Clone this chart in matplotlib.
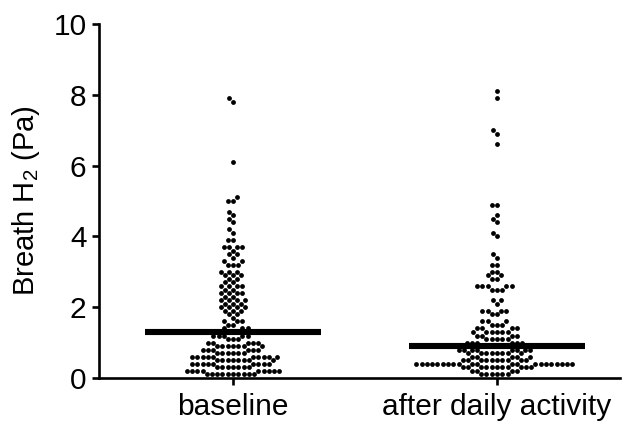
import numpy as np
import matplotlib
matplotlib.use("Agg")
import matplotlib.pyplot as plt

plt.rcParams['font.family'] = ['Liberation Sans', 'DejaVu Sans']
plt.rcParams['mathtext.fontset'] = 'custom'
plt.rcParams['mathtext.rm'] = 'Liberation Sans'
plt.rcParams['mathtext.default'] = 'regular'

categories = ["baseline", "after daily activity"]

# value (Pa) -> number of subjects at that value
baseline_values = [7.9, 7.8, 6.1, 5.1, 5.0, 4.7, 4.6, 4.5, 4.4, 4.2, 4.1, 3.9, 3.7, 3.6, 3.5,
                   3.4, 3.3, 3.2, 3.0, 2.9, 2.8, 2.7, 2.6, 2.5, 2.4, 2.3, 2.2, 2.1, 2.0, 1.9,
                   1.8, 1.7, 1.6, 1.5, 1.4, 1.3, 1.2, 1.1, 1.0, 0.9, 0.8, 0.7, 0.6, 0.5, 0.4,
                   0.3, 0.2, 0.1]
baseline_counts = [1, 1, 1, 1, 2, 1, 1, 1, 1, 1, 1, 2, 4, 1, 2,
                   1, 2, 3, 3, 3, 2, 2, 4, 2, 4, 2, 4, 3, 4, 3,
                   2, 1, 3, 2, 3, 5, 5, 3, 5, 7, 6, 6, 10, 8, 9,
                   7, 9, 10]

after_values = [8.1, 7.9, 7.0, 6.9, 6.6, 4.9, 4.6, 4.5, 4.4, 4.1, 4.0, 3.5, 3.4, 3.2, 3.0,
                2.9, 2.8, 2.6, 2.5, 2.2, 2.1, 1.9, 1.8, 1.6, 1.5, 1.4, 1.3, 1.2, 1.1, 1.0,
                0.9, 0.8, 0.7, 0.6, 0.5, 0.4, 0.3, 0.2, 0.1]
after_counts = [1, 1, 1, 1, 1, 2, 1, 1, 1, 1, 1, 1, 1, 2, 2,
                2, 2, 5, 3, 2, 1, 4, 2, 3, 3, 4, 6, 4, 5, 6,
                6, 8, 8, 5, 10, 21, 11, 4, 6]

medians = [1.3, 0.9]

W, H, DPI = 624, 423, 100
fig = plt.figure(figsize=(W / DPI, H / DPI), dpi=DPI)
ax = fig.add_axes([99 / W, 45 / H, (620 - 99) / W, (378 - 24) / H])
ax.set_ylim(0, 10)
ax.set_xlim(-0.508, 1.466)

# pixel scales for swarm layout
px_per_y = (378 - 24) / 10.0
px_per_x = 264.0
D = 5.3  # minimum centre distance, px


def swarm(vals):
    ys = np.sort(np.asarray(vals, dtype=float)) * px_per_y
    placed = []
    xs = []
    for y in ys:
        neigh = [(px, py) for px, py in placed if abs(py - y) < D]
        cands = [0.0]
        for px, py in neigh:
            dx = np.sqrt(D * D - (py - y) ** 2)
            cands += [px + dx, px - dx]
        cands.sort(key=lambda c: (abs(c), c))
        for c in cands:
            if all((c - px) ** 2 + (y - py) ** 2 >= D * D - 1e-6 for px, py in neigh):
                placed.append((c, y))
                xs.append(c)
                break
    return np.array(xs) / px_per_x, ys / px_per_y


groups = [np.repeat(baseline_values, baseline_counts), np.repeat(after_values, after_counts)]
for i, g in enumerate(groups):
    dx, yy = swarm(g)
    ax.scatter(i + dx, yy, s=12, color='black', linewidths=0, zorder=3, clip_on=False)
    ax.plot([i - 0.333, i + 0.333], [medians[i], medians[i]], color='black', lw=4.4,
            solid_capstyle='butt', zorder=4)

for s in ['top', 'right']:
    ax.spines[s].set_visible(False)
for s in ['left', 'bottom']:
    ax.spines[s].set_linewidth(1.9)

ax.set_yticks([0, 2, 4, 6, 8, 10])
ax.set_xticks([0, 1])
ax.set_xticklabels(categories)
ax.tick_params(axis='both', labelsize=21.5, width=1.9, length=5, direction='out', color='black')
ax.tick_params(axis='y', pad=4)
ax.tick_params(axis='x', pad=6)
ax.set_ylabel("Breath H$_2$ (Pa)", fontsize=21, labelpad=8)

fig.savefig("out.png", dpi=DPI)
